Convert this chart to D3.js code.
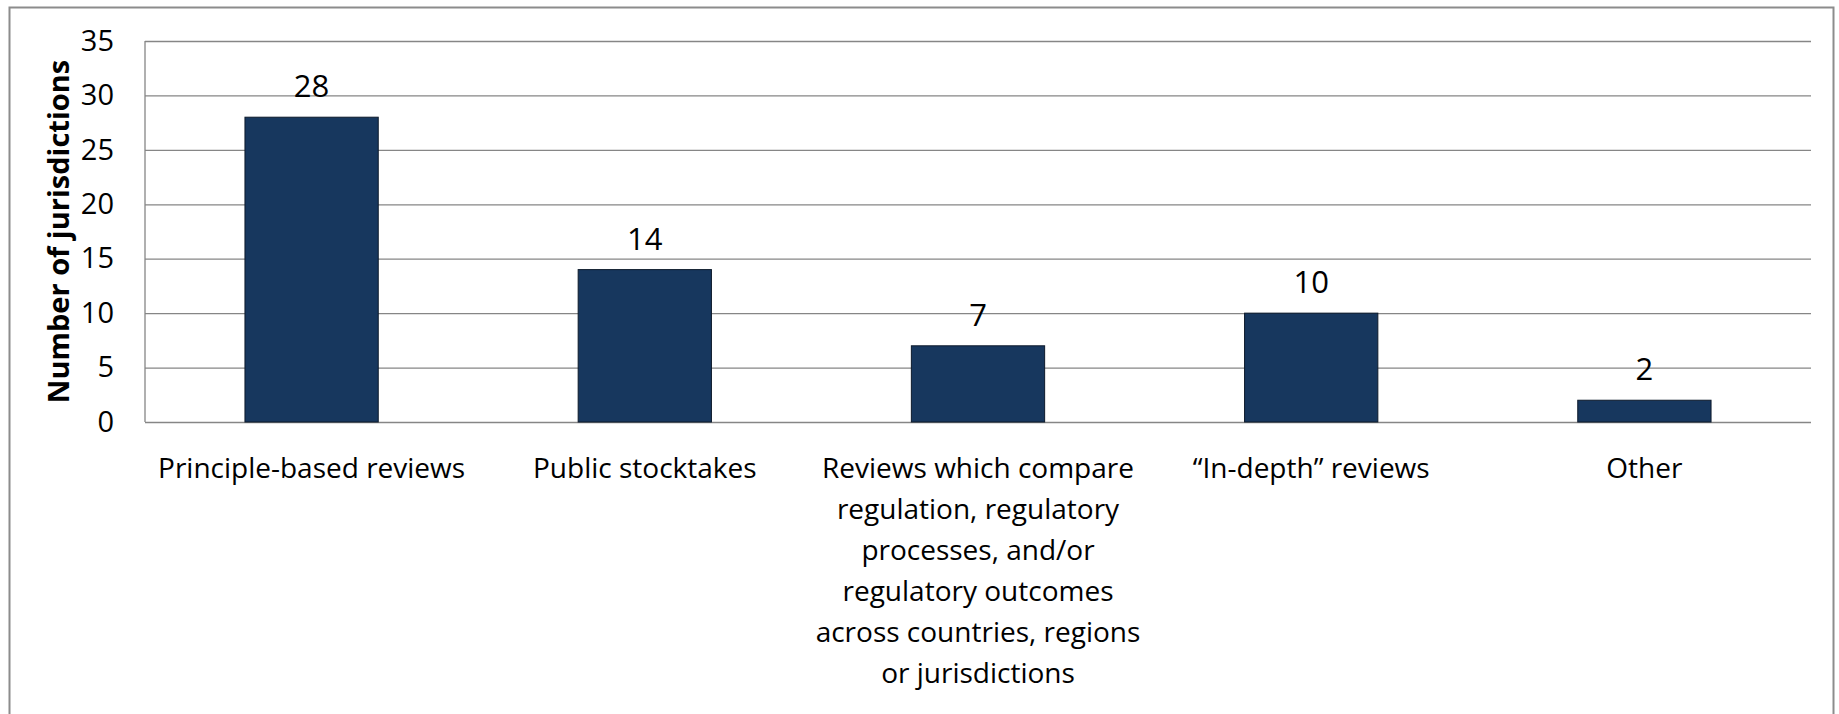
<!DOCTYPE html>
<html>
<head>
<meta charset="utf-8">
<script src="https://cdn.jsdelivr.net/npm/d3@7"></script>
<style>
  body { margin: 0; background: #fff; }
  text { font-family: "Open Sans", "Noto Sans", sans-serif; fill: #000; }
</style>
</head>
<body>
<div id="my_dataviz"></div>
<script>
// data
const categories = [
    "Principle-based reviews",
    "Public stocktakes",
    "Reviews which compare regulation, regulatory processes, and/or regulatory outcomes across countries, regions or jurisdictions",
    "\u201cIn-depth\u201d reviews",
    "Other"
];
// how the long category labels break into lines
const categoryLines = [
    ["Principle-based reviews"],
    ["Public stocktakes"],
    ["Reviews which compare", "regulation, regulatory", "processes, and/or", "regulatory outcomes", "across countries, regions", "or jurisdictions"],
    ["\u201cIn-depth\u201d reviews"],
    ["Other"]
];
const values = [28, 14, 7, 10, 2];
const yTicks = [0, 5, 10, 15, 20, 25, 30, 35];
const yTitle = "Number of jurisdictions";

// set the dimensions and margins of the graph
const W = 1839, H = 714;
const margin = { top: 41, right: 28, bottom: 292, left: 145 },
    width = W - margin.left - margin.right,
    height = H - margin.top - margin.bottom;

const svg = d3.select("#my_dataviz")
    .append("svg")
    .attr("width", W)
    .attr("height", H);

// outer chart border
svg.append("rect")
    .attr("x", 9.5)
    .attr("y", 7.5)
    .attr("width", 1824)
    .attr("height", 720)
    .attr("fill", "none")
    .attr("stroke", "#8c8c8c")
    .attr("stroke-width", 2);

const g = svg.append("g")
    .attr("transform", `translate(${margin.left}, ${margin.top})`);

const x = d3.scaleBand()
    .domain(categories)
    .range([0, width])
    .paddingInner(0.6)
    .paddingOuter(0.3);

const y = d3.scaleLinear()
    .domain([0, 35])
    .range([height, 0]);

// gridlines
g.append("g")
    .attr("class", "grid")
    .call(d3.axisLeft(y).tickValues(yTicks).tickSize(-width).tickFormat(""))
    .call(s => s.select(".domain").remove())
    .selectAll("line")
    .attr("stroke", "#868686")
    .attr("stroke-width", 1.3);

// left axis line
g.append("line")
    .attr("x1", 0).attr("x2", 0)
    .attr("y1", 0).attr("y2", height)
    .attr("stroke", "#868686")
    .attr("stroke-width", 1.3);

// y tick labels
const yAxis = g.append("g")
    .call(d3.axisLeft(y).tickValues(yTicks).tickSize(0).tickPadding(31));
yAxis.select(".domain").remove();
yAxis.selectAll("text")
    .style("font-family", "'Open Sans', sans-serif")
    .style("font-size", "29px")
    .attr("fill", "#000");

// bars
g.append("g")
    .selectAll("rect")
    .data(values)
    .join("rect")
    .attr("x", (d, i) => x(categories[i]))
    .attr("y", d => y(d))
    .attr("width", x.bandwidth())
    .attr("height", d => height - y(d))
    .attr("fill", "#17375e")
    .attr("stroke", "#0d1a2b")
    .attr("stroke-width", 1);

// value labels
g.append("g")
    .selectAll("text")
    .data(values)
    .join("text")
    .attr("x", (d, i) => x(categories[i]) + x.bandwidth() / 2)
    .attr("y", d => y(d) - 20)
    .attr("text-anchor", "middle")
    .style("font-size", "31px")
    .text(d => d);

// category labels
const cat = g.append("g")
    .selectAll("text")
    .data(categories)
    .join("text")
    .attr("x", d => x(d) + x.bandwidth() / 2)
    .attr("y", height + 56)
    .attr("text-anchor", "middle")
    .style("font-size", "28px");
cat.selectAll("tspan")
    .data((d, i) => categoryLines[i])
    .join("tspan")
    .attr("x", function () { return this.parentNode.getAttribute("x"); })
    .attr("dy", (d, i) => i === 0 ? 0 : 41)
    .text(d => d);

// y axis title
svg.append("text")
    .attr("transform", `translate(57, ${margin.top + height / 2}) rotate(-90)`)
    .attr("text-anchor", "middle")
    .attr("dominant-baseline", "central")
    .style("font-size", "29px")
    .style("font-weight", "bold")
    .text(yTitle);
</script>
</body>
</html>
